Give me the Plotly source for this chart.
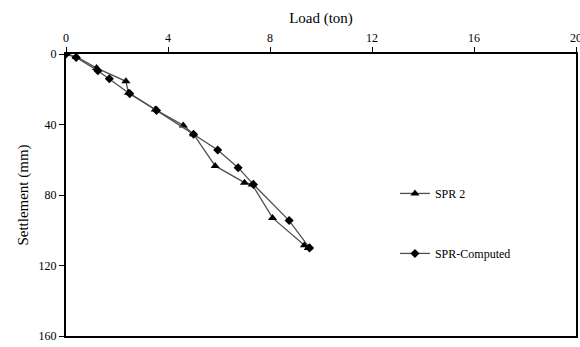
import plotly.graph_objects as go

spr2_load = [0, 0.4, 1.2, 2.35, 2.45, 3.5, 4.6, 5.0, 5.85, 7.0, 7.3, 8.1, 9.35, 9.5]
spr2_settle = [0, 1.5, 8, 15.5, 22, 31.5, 40.5, 45.5, 63.5, 73, 74, 93, 108.5, 110]

comp_load = [0, 0.4, 1.25, 1.7, 2.5, 3.55, 5.0, 5.95, 6.75, 7.35, 8.75, 9.55]
comp_settle = [0, 2, 9.5, 14, 22.5, 32, 45.5, 54.5, 64.5, 74, 94.5, 110]

x_ticks = [0, 4, 8, 12, 16, 20]
y_ticks = [0, 40, 80, 120, 160]

font_family = "Liberation Serif, Times New Roman, serif"

fig = go.Figure()
fig.add_trace(go.Scatter(
    x=spr2_load, y=spr2_settle, mode="lines+markers", name="SPR 2",
    legendgroup="a",
    line=dict(color="#505050", width=1.3),
    marker=dict(symbol="triangle-up", size=8, color="black"),
))
fig.add_trace(go.Scatter(
    x=comp_load, y=comp_settle, mode="lines+markers", name="SPR-Computed",
    legendgroup="b",
    line=dict(color="#505050", width=1.3),
    marker=dict(symbol="diamond", size=7, color="black"),
))

fig.update_layout(
    width=580, height=347,
    margin=dict(l=66, r=4, t=54, b=11, autoexpand=False),
    paper_bgcolor="white", plot_bgcolor="white",
    font=dict(family=font_family, color="black", size=12),
    showlegend=True,
    legend=dict(
        x=0.645, y=0.557, xanchor="left", yanchor="top",
        bgcolor="rgba(0,0,0,0)", borderwidth=0,
        tracegroupgap=41, itemwidth=30,
        font=dict(family=font_family, size=12, color="black"),
    ),
)
fig.update_xaxes(
    side="top", range=[0, 20], tickvals=x_ticks, ticktext=[str(v) for v in x_ticks],
    showgrid=False, zeroline=False, showline=True, linecolor="black", linewidth=2,
    mirror=True, ticks="outside", ticklen=5, tickcolor="black", tickwidth=1,
    automargin=False, ticklabeloverflow="allow",
    title=dict(text="Load (ton)", font=dict(family=font_family, size=15), standoff=4),
    tickfont=dict(family=font_family, size=12),
)
fig.update_yaxes(
    range=[160, 0], tickvals=y_ticks, ticktext=[str(v) for v in y_ticks],
    showgrid=False, zeroline=False, showline=True, linecolor="black", linewidth=2,
    mirror=True, ticks="outside", ticklen=5, tickcolor="black", tickwidth=1,
    automargin=False, ticklabeloverflow="allow",
    title=dict(text="Settlement (mm)", font=dict(family=font_family, size=15), standoff=6),
    tickfont=dict(family=font_family, size=12),
)

fig.write_html("out.html", config={"displayModeBar": False},
               post_script="document.body.style.margin='0';")
